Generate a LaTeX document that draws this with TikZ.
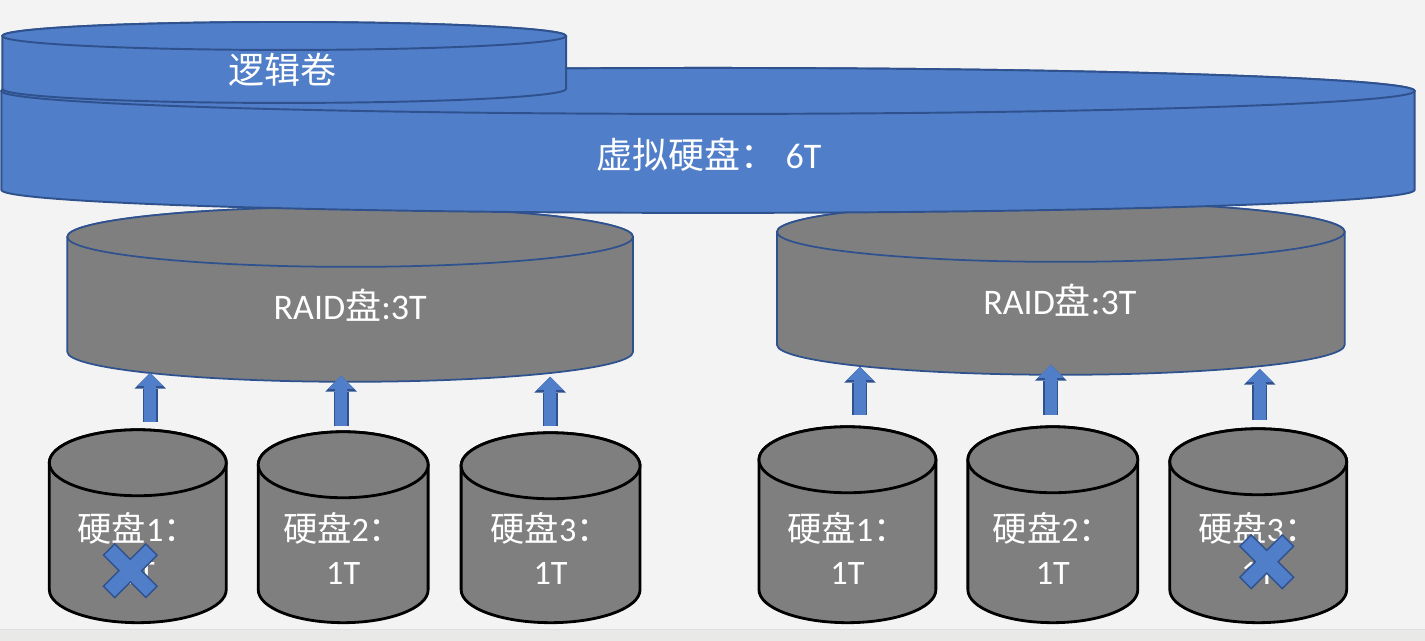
\documentclass[tikz,border=0pt]{standalone}
\usepackage{fontspec}
\setmainfont{Carlito}
\newfontfamily\cjk{Noto Sans CJK SC}
\usepackage{tikz}
\definecolor{volblue}{RGB}{80,126,200}
\definecolor{volline}{RGB}{47,82,143}
\definecolor{diskgray}{RGB}{127,127,127}
\definecolor{paper}{RGB}{243,243,243}
\definecolor{strip}{RGB}{233,234,232}
\usetikzlibrary{arrows.meta}

% drum: centre x, top y, bottom y, x radius, y radius, style
\newcommand{\drum}[6]{%
  \filldraw[#6] (#1-#4,#2) -- (#1-#4,#3) arc[start angle=180,end angle=360,x radius=#4,y radius=#5]
    -- (#1+#4,#2) arc[start angle=0,end angle=180,x radius=#4,y radius=#5] -- cycle;
  \draw[#6] (#1,#2) ellipse[x radius=#4,y radius=#5];
}

\tikzset{
  lvstyle/.style={fill=volblue,draw=volline,line width=1.1pt},
  raidstyle/.style={fill=diskgray,draw=volline,line width=1pt},
  diskstyle/.style={fill=diskgray,draw=black,line width=1.6pt},
  whitetext/.style={text=white,font=\fontsize{20.5}{24}\selectfont},
  disklabel/.style={text=white,align=center,font=\fontsize{19.5}{24.5}\selectfont},
  feed/.style={draw=volblue,line width=7pt,-{Triangle[width=15pt,length=7.5pt,line width=0pt]},
    preaction={draw=volline,line width=8.6pt,-{Triangle[width=18pt,length=9pt,line width=0pt]}}},
  failmark/.pic={
    \filldraw[fill=volblue,draw=volline,line width=0.8pt,rotate=45]
      (8,8) -- (8,30) -- (-8,30) -- (-8,8) -- (-30,8) -- (-30,-8) -- (-8,-8) -- (-8,-30)
      -- (8,-30) -- (8,-8) -- (30,-8) -- (30,8) -- cycle;
  }
}

\begin{document}
\begin{tikzpicture}[x=0.02cm,y=0.02cm]
    \fill[paper] (0,0) rectangle (1425,641);
    \fill[strip] (0,0) rectangle (1425,11);
    \draw[gray!25] (0,11) -- (1425,11);
    \useasboundingbox (0,0) rectangle (1425,641);

    % RAID sets
    \drum{350}{404}{289}{283}{30}{raidstyle}
    \drum{1061}{409}{296}{284}{30}{raidstyle}
    % virtual disk and logical volume
    \drum{708}{550}{451}{707}{23}{lvstyle}
    \drum{284}{605}{552}{282}{14}{lvstyle}

    \node[whitetext] (lvol) at (282,571) {\cjk 逻辑卷};
    \node[whitetext] (vdisk) at (709,486) {{\cjk 虚拟硬盘：}\hspace{0.25em}6T};
    \node[whitetext] (raidL) at (350,336) {RAID{\cjk 盘}:3T};
    \node[whitetext] (raidR) at (1060,341) {RAID{\cjk 盘}:3T};

    % member disks
    \foreach \n/\cx/\rx/\tp/\k/\ax/\ab/\at in {L1/137.5/88.5/178/1/150/219/268,
        L2/343/85/176/2/341/215/265, L3/550.5/89.5/175/3/550/215/264,
        R1/847.5/88.5/181/1/860/226/274, R2/1053/85/181/2/1051/226/276,
        R3/1258.5/88.5/179/3/1260/221/272}{
      \drum{\cx}{\tp}{51}{\rx}{33}{diskstyle}
      \node[disklabel] (d\n) at (\cx,92) {{\cjk 硬盘}\k{\cjk ：}\\1T};
      \coordinate (d\n top) at (\ax,\ab);
      \coordinate (d\n in) at (\ax,\at);
      \draw[feed] (d\n top) -- (d\n in);
    }

    % failed disks
    \pic at (130,70) {failmark};
    \pic at (1267,79) {failmark};
\end{tikzpicture}
\end{document}
